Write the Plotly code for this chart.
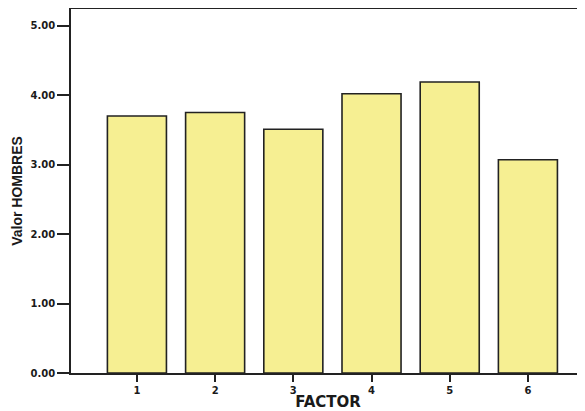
import plotly.graph_objects as go

categories = ["1", "2", "3", "4", "5", "6"]
values = [3.70, 3.75, 3.51, 4.02, 4.19, 3.07]
y_ticks = [0, 1, 2, 3, 4, 5]
y_tick_labels = ["0.00", "1.00", "2.00", "3.00", "4.00", "5.00"]

x_pos = [1, 2, 3, 4, 5, 6]

fig = go.Figure(go.Bar(
    x=x_pos, y=values, width=0.755,
    marker=dict(color="#F6EF92", line=dict(color="#222222", width=1.6)),
))

# page body has an 8px margin, so the figure is sized to fit 585x411 window
fig.update_layout(
    width=577, height=403,
    margin=dict(l=63, r=0, t=1, b=38),
    paper_bgcolor="white", plot_bgcolor="white",
    showlegend=False,
    font=dict(family="DejaVu Sans, Liberation Sans, Arial", color="#1a1a1a"),
    xaxis=dict(
        range=[0.157, 6.73], tickmode="array", tickvals=x_pos, ticktext=categories,
        showline=True, linecolor="#222222", linewidth=1.5, mirror=True,
        ticks="outside", ticklen=7, tickwidth=1.8, tickcolor="#222222",
        showgrid=False, zeroline=False,
        tickfont=dict(size=10, family="DejaVu Sans", weight="bold"),
        title=dict(text="<b>FACTOR</b>", font=dict(size=15, family="DejaVu Sans"), standoff=2),
    ),
    yaxis=dict(
        range=[0, 5.24], tickmode="array", tickvals=y_ticks, ticktext=y_tick_labels,
        showline=True, linecolor="#222222", linewidth=1.5,
        ticks="outside", ticklen=12, tickwidth=1.5, tickcolor="#222222",
        ticklabelstandoff=0,
        showgrid=False, zeroline=False,
        tickfont=dict(size=10, family="DejaVu Sans", weight="bold"),
        title=dict(text="<b>Valor HOMBRES</b>",
                   font=dict(size=14, family="Liberation Sans, Arial"),
                   standoff=5),
    ),
)

fig.write_html("out.html")
